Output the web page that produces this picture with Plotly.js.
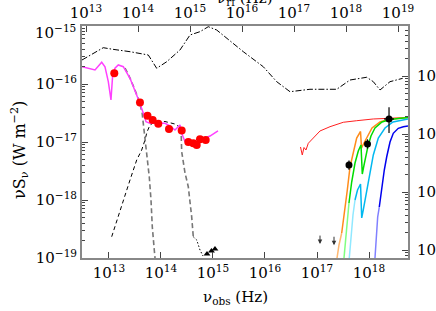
<!DOCTYPE html>
<html>
<head>
<meta charset="utf-8">
<script src="https://cdn.plot.ly/plotly-3.0.1.min.js"></script>
<style>html,body{margin:0;padding:0;background:#fff;}#chart{width:436px;height:311px;}</style>
</head>
<body>
<div id="chart"></div>
<script>
// ---- DATA (log10 of nu_obs [Hz] and log10 of nu S_nu [W m^-2]) ----
// quasar template (dash-dot)
const tmplLogNu = [12.481,12.890,13.077,13.404,13.756,13.917,14.110,14.365,14.558,14.75,14.91,15.071,15.583,15.967,16.225,16.481,16.865,17.379,17.635,17.956,18.083,18.212,18.404,18.648];
const tmplLogF  = [-15.586,-15.374,-15.402,-15.443,-15.5,-15.729,-15.616,-15.414,-15.155,-15.098,-15.012,-15.069,-15.443,-15.702,-15.960,-16.133,-16.091,-16.091,-15.931,-15.884,-15.960,-16.103,-15.960,-15.902];
// observed IR/optical spectrum (magenta)
const specLogNu = [12.481,12.635,12.731,12.860,12.923,12.987,13.038,13.071,13.115,13.179,13.275,13.404,13.5,13.583,13.660,13.712,13.788,13.948,14.077,14.173,14.269,14.365,14.398,14.462,14.525,14.654,14.75,14.942,15.096];
const specLogF  = [-15.702,-15.741,-15.759,-15.626,-15.702,-15.960,-16.276,-15.845,-15.729,-15.672,-15.702,-15.902,-16.103,-16.305,-16.505,-16.650,-16.678,-16.678,-16.678,-16.724,-16.793,-16.707,-16.850,-16.995,-17.022,-17.017,-16.966,-16.897,-16.810];
// photometry (red dots)
const photLogNu = [13.102,13.596,13.740,13.840,13.948,14.154,14.398,14.525,14.621,14.687,14.75,14.860];
const photLogF  = [-15.816,-16.319,-16.548,-16.621,-16.684,-16.776,-16.802,-17.0,-17.022,-17.052,-16.953,-16.966];
// host galaxy component (black dashed) and its UV cut-off
const hostLogNu = [13.052,13.212,13.404,13.533,13.629,13.692,13.731,13.788,13.885,14.077,14.269,14.385];
const hostLogF  = [-18.633,-18.172,-17.655,-17.310,-17.138,-16.966,-16.828,-16.707,-16.655,-16.647,-16.690,-16.759];
const hostCutLogNu = [14.385,14.398,14.462,14.525,14.590,14.621];
const hostCutLogF  = [-16.759,-17.167,-17.534,-17.771,-18.288,-18.633];
const hostTailLogNu = [14.621,14.687,14.75,14.808];
const hostTailLogF  = [-18.633,-18.690,-18.862,-18.966];
// hot dust component (grey dashed)
const dustLogNu = [13.308,13.404,13.5,13.583,13.635,13.673,13.702,13.731,13.775,13.808,13.833,13.871,13.885];
const dustLogF  = [-15.724,-15.897,-16.103,-16.305,-16.483,-16.759,-17.052,-17.276,-17.603,-18.0,-18.466,-18.862,-19.0];
// X-ray models
const redLogNu = [16.683,16.717,16.75,16.788,16.833,16.929,17.058,17.25,17.506,17.763,18.083,18.404,18.75];
const redLogF  = [-17.086,-17.224,-17.095,-17.138,-17.022,-16.936,-16.810,-16.736,-16.660,-16.633,-16.603,-16.591,-16.578];
const orangeLogNu = [17.385,17.423,17.475,17.538,17.583,17.635,17.692,17.763,17.837,17.856,17.904,17.962,18.058,18.212,18.404,18.75];
const orangeLogF  = [-19.0,-18.776,-18.569,-18.172,-17.828,-17.431,-17.190,-16.931,-16.819,-17.103,-17.017,-16.914,-16.759,-16.655,-16.603,-16.578];
const greenLogNu = [17.519,17.548,17.577,17.615,17.667,17.731,17.794,17.846,17.871,17.904,17.942,17.981,18.038,18.115,18.25,18.404,18.75];
const greenLogF  = [-19.0,-18.690,-18.379,-18.052,-17.690,-17.362,-17.155,-17.052,-17.552,-17.397,-17.224,-17.069,-16.897,-16.759,-16.655,-16.612,-16.578];
const cyanLogNu = [17.621,17.654,17.692,17.731,17.779,17.837,17.860,17.890,17.956,18.019,18.083,18.179,18.308,18.462,18.75];
const cyanLogF  = [-19.0,-18.621,-18.259,-18.0,-17.828,-17.724,-18.310,-18.172,-17.828,-17.483,-17.224,-16.931,-16.759,-16.655,-16.603];
const blueLogNu = [18.115,18.148,18.167,18.198,18.231,18.263,18.294,18.340,18.404,18.467,18.563,18.660,18.75];
const blueLogF  = [-19.0,-18.569,-18.293,-18.121,-17.879,-17.655,-17.483,-17.259,-17.0,-16.850,-16.764,-16.736,-16.724];
// X-ray data points with errors (dex)
const xrayLogNu = [17.615,17.971,18.385];
const xrayLogF  = [-17.397,-17.034,-16.603];
const xrayErrUp = [0.08,0.08,0.20];
const xrayErrDn = [0.08,0.08,0.24];
const xrayErrNu = [0,0,0.096];
// upper limits and lower-limit triangles
const ulLogNu = [17.058,17.327];
const ulLogF  = [-18.76,-18.78];
const llLogNu = [14.885,14.971,15.038];
const llLogF  = [-18.931,-18.879,-18.845];
// axes
const xTickExp  = [13,14,15,16,17,18];
const x2TickExp = [13,14,15,16,17,18,19];
const yTickExp  = [-19,-18,-17,-16,-15];
const y2TickExp = [43,44,45,46];
const logOnePlusZ = 0.442;
const xTitle = '\u03bd<sub>obs</sub> (Hz)';
const x2Title = '\u03bd<sub>rf</sub> (Hz)';
const yTitle = '\u03bdS<sub>\u03bd</sub> (W m<sup>\u22122</sup>)';

// ---- helpers ----
const p10 = a => a.map(v => Math.pow(10, v));
const sup = e => '10<sup>' + String(e).replace('-', '\u2212') + '</sup>';
function seg(xs, ys, i0, i1){ return {x:p10(xs.slice(i0,i1)), y:p10(ys.slice(i0,i1))}; }
function line(d, color, width, dash){
  return {type:'scatter', mode:'lines', x:d.x, y:d.y, line:{color:color, width:width, dash:dash||'solid'}, hoverinfo:'skip', showlegend:false};
}
const all = (xs, ys) => ({x:p10(xs), y:p10(ys)});
function minorVals(e0, e1){ const out=[]; for(let e=e0;e<e1;e++) for(let m=2;m<=9;m++) out.push(m*Math.pow(10,e)); return out; }

const traces = [
  line(all(tmplLogNu, tmplLogF), '#000', 1, '6px,2px,1.5px,2px'),
  line(all(hostLogNu, hostLogF), '#000', 1, '4px,3px'),
  line(all(hostCutLogNu, hostCutLogF), '#777', 1.6, '5px,3px'),
  line(all(hostTailLogNu, hostTailLogF), '#000', 1, '1.5px,2px'),
  line(all(dustLogNu, dustLogF), '#777', 1.6, '5px,3px'),
  line(all(specLogNu, specLogF), '#ff40ff', 1.5),
  {type:'scatter', mode:'markers', x:p10(photLogNu), y:p10(photLogF), marker:{color:'#ff0000', size:8}, hoverinfo:'skip', showlegend:false},
  line(all(redLogNu, redLogF), '#ff2020', 1),
  line(seg(orangeLogNu, orangeLogF, 0, 3), '#ffb870', 1.5),
  line(seg(orangeLogNu, orangeLogF, 2, orangeLogNu.length), '#ff8c1a', 1.5),
  line(seg(greenLogNu, greenLogF, 0, 4), '#80ff80', 1.5),
  line(seg(greenLogNu, greenLogF, 3, greenLogNu.length), '#00dd00', 1.5),
  line(seg(cyanLogNu, cyanLogF, 0, 4), '#90e8ff', 1.5),
  line(seg(cyanLogNu, cyanLogF, 3, cyanLogNu.length), '#00b8f0', 1.5),
  line(seg(blueLogNu, blueLogF, 0, 4), '#8080ff', 1.5),
  line(seg(blueLogNu, blueLogF, 3, blueLogNu.length), '#0000ee', 1.5),
  {type:'scatter', mode:'markers', x:p10(xrayLogNu), y:p10(xrayLogF),
   marker:{color:'#000', size:7},
   error_y:{type:'data', symmetric:false,
            array:xrayLogF.map((v,i)=>Math.pow(10,v+xrayErrUp[i])-Math.pow(10,v)),
            arrayminus:xrayLogF.map((v,i)=>Math.pow(10,v)-Math.pow(10,v-xrayErrDn[i])),
            color:'#000', thickness:1.2, width:0},
   error_x:{type:'data', symmetric:false,
            array:xrayLogNu.map((v,i)=>Math.pow(10,v+xrayErrNu[i])-Math.pow(10,v)),
            arrayminus:xrayLogNu.map((v,i)=>Math.pow(10,v)-Math.pow(10,v-xrayErrNu[i])),
            color:'#000', thickness:1.2, width:0},
   hoverinfo:'skip', showlegend:false},
  {type:'scatter', mode:'markers', x:p10(llLogNu), y:p10(llLogF), marker:{color:'#000', size:6, symbol:'triangle-up'}, hoverinfo:'skip', showlegend:false},
  // carriers so the top and right axes are drawn
  {type:'scatter', mode:'markers', x:p10(x2TickExp), y:x2TickExp.map(()=>1e-17), xaxis:'x2', yaxis:'y', marker:{opacity:0}, hoverinfo:'skip', showlegend:false},
  {type:'scatter', mode:'markers', x:y2TickExp.map(()=>1e15), y:p10(y2TickExp), xaxis:'x', yaxis:'y2', marker:{opacity:0}, hoverinfo:'skip', showlegend:false}
];

const FONT = 'DejaVu Serif, serif';
const axisBase = {type:'log', showgrid:false, zeroline:false, showline:true, linecolor:'#888', linewidth:2,
  ticks:'inside', ticklen:6, tickwidth:1, tickcolor:'#444', tickfont:{family:FONT, size:15, color:'#000'}};

// the top-most left label sits a little below its tick, as in the reference
const yTickText = yTickExp.map(e => e === -15 ? '' : sup(e));

const annotations = ulLogNu.map((x,i)=>({x:x, y:ulLogF[i], xref:'x', yref:'y', text:'', showarrow:true,
  arrowhead:2, arrowsize:0.9, arrowwidth:1, arrowcolor:'#333', ax:0, ay:-10}));
annotations.push({xref:'paper', yref:'paper', x:0.5, y:1.069, xanchor:'center', yanchor:'bottom',
  text:x2Title, showarrow:false, font:{family:FONT, size:15, color:'#000'}});
annotations.push({xref:'paper', yref:'paper', x:0.472, y:-0.172, xanchor:'center', yanchor:'middle',
  text:xTitle, showarrow:false, font:{family:FONT, size:15, color:'#000'}});
annotations.push({xref:'paper', yref:'paper', x:-0.190, y:0.466, xanchor:'center', yanchor:'middle', textangle:-90,
  text:yTitle, showarrow:false, font:{family:FONT, size:16, color:'#000'}});
annotations.push({xref:'paper', yref:'paper', x:-0.012, y:0.974, xanchor:'right', yanchor:'middle',
  text:sup(yTickExp[yTickExp.length-1]), showarrow:false, font:{family:FONT, size:15, color:'#000'}});

const layout = {
  width:436, height:311, paper_bgcolor:'#fff', plot_bgcolor:'#fff',
  margin:{l:82, r:28, t:26, b:53},
  font:{family:FONT, color:'#000'},
  showlegend:false,
  xaxis: Object.assign({}, axisBase, {range:[12.481,18.75], tickvals:p10(xTickExp), ticktext:xTickExp.map(sup)}),
  xaxis2: Object.assign({}, axisBase, {overlaying:'x', side:'top', anchor:'y',
    range:[12.481+logOnePlusZ, 18.75+logOnePlusZ], tickvals:p10(x2TickExp), ticktext:x2TickExp.map(sup)}),
  yaxis: Object.assign({}, axisBase, {range:[-19,-15], tickvals:p10(yTickExp), ticktext:yTickText,
    minor:{ticks:'inside', ticklen:3, tickcolor:'#444', tickvals:minorVals(-19,-15)}}),
  yaxis2: Object.assign({}, axisBase, {overlaying:'y', side:'right', anchor:'x',
    range:[42.862,46.862], tickvals:p10(y2TickExp), ticktext:y2TickExp.map(sup), ticklabelstandoff:4,
    minor:{ticks:'inside', ticklen:3, tickcolor:'#444', tickvals:minorVals(42,47)}}),
  annotations: annotations
};

Plotly.newPlot('chart', traces, layout, {staticPlot:true, displayModeBar:false});
</script>
</body>
</html>
